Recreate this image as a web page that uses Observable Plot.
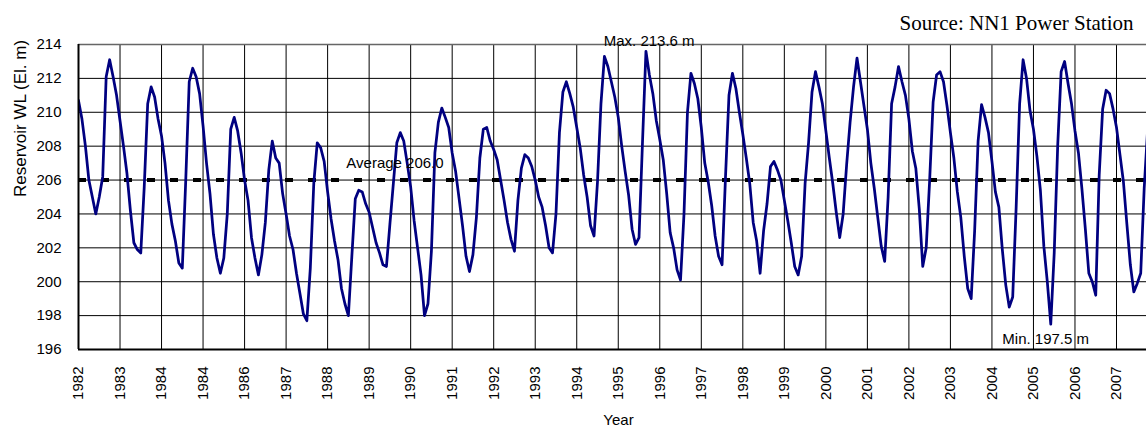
<!DOCTYPE html>
<html><head><meta charset="utf-8">
<script src="https://cdn.jsdelivr.net/npm/d3@7"></script>
<script src="https://cdn.jsdelivr.net/npm/@observablehq/plot@0.6"></script>
<style>
html,body{margin:0;padding:0;background:#fff;}
#chart{width:1146px;height:426px;position:relative;overflow:hidden;}
</style></head><body><div id="chart"></div>
<script>
// Tick labels shown every 12 months (as printed in the original chart)
const yearLabels = ["1982","1983","1984","1984","1986","1987","1988","1989","1990","1991","1992","1993","1994",
  "1995","1996","1997","1998","1999","2000","2001","2002","2003","2004","2005","2006","2007"];

// Monthly reservoir water level (El. m), one row per year from 1982
const levels = [
  210.7,209.6,208.0,206.0,205.0,204.0,205.0,206.2,212.1,213.1,212.1,211.0,
  209.5,208.0,206.4,204.2,202.3,201.9,201.7,205.6,210.5,211.5,210.9,209.6,
  208.6,207.0,204.8,203.4,202.4,201.1,200.8,206.0,211.8,212.6,212.1,211.1,
  209.2,207.0,205.2,202.8,201.4,200.5,201.4,204.0,209.0,209.7,208.9,207.6,
  206.0,204.8,202.6,201.4,200.4,201.6,203.5,206.6,208.3,207.3,207.0,205.2,
  204.0,202.7,201.9,200.5,199.3,198.1,197.7,200.8,205.8,208.2,207.9,207.1,
  205.3,203.7,202.4,201.3,199.6,198.7,198.0,201.5,204.9,205.4,205.3,204.6,
  204.1,203.2,202.3,201.7,201.0,200.9,203.4,205.8,208.2,208.8,208.3,207.0,
  205.6,203.6,202.0,200.4,198.0,198.7,201.8,207.6,209.4,210.25,209.7,209.1,
  207.6,206.5,204.9,203.3,201.5,200.6,201.6,203.8,207.3,209.0,209.1,208.3,
  207.8,207.2,206.0,204.8,203.5,202.5,201.8,204.8,206.7,207.5,207.3,206.8,
  206.0,205.0,204.4,203.3,202.0,201.7,204.0,208.8,211.2,211.8,211.1,210.3,
  209.1,207.9,206.3,205.0,203.3,202.7,205.9,210.5,213.3,212.7,211.8,210.9,
  209.7,208.0,206.5,205.1,203.1,202.2,202.6,208.2,213.6,212.2,211.1,209.5,
  208.4,207.2,205.2,202.9,202.0,200.7,200.1,204.0,210.0,212.3,211.7,210.8,
  209.1,207.0,205.9,204.5,202.7,201.5,201.0,206.2,211.0,212.3,211.4,210.0,
  208.7,207.3,205.8,203.5,202.4,200.5,203.0,204.6,206.8,207.1,206.6,206.0,
  204.8,203.6,202.3,200.9,200.4,201.5,205.8,208.2,211.2,212.4,211.5,210.5,
  208.9,207.3,205.8,204.1,202.6,204.0,206.9,209.4,211.5,213.2,211.8,210.4,
  209.0,207.0,205.5,203.8,202.1,201.2,205.0,210.5,211.5,212.7,211.8,211.0,
  209.6,207.7,206.7,204.3,200.9,202.0,206.0,210.6,212.2,212.4,211.8,210.4,
  208.8,207.3,205.3,203.8,201.5,199.6,199.0,203.0,208.3,210.45,209.7,208.8,
  207.1,205.3,204.4,201.9,199.8,198.5,199.1,204.4,210.5,213.1,212.0,210.1,
  209.0,207.4,205.4,202.1,200.0,197.5,201.7,208.0,212.4,213.0,211.7,210.5,
  208.9,207.6,205.5,203.1,200.5,200.0,199.2,206.3,210.2,211.3,211.1,210.2,
  209.1,207.5,205.9,203.4,201.0,199.4,199.9,200.5,205.5,209.0
];

const averageLevel = 206.0;
const yTicks = [196,198,200,202,204,206,208,210,212,214];

// Annotation labels anchored in data space (month index, level)
const noteLabels = ["Average 206.0", "Max. 213.6 m", "Min. 197.5 m"];
const noteMonth = [77.4, 151.8, 267.0];
const noteLevel = [206.7, 213.9, 196.35];

const sourceText = "Source: NN1 Power Station";
const xTitle = "Year";
const yTitle = "Reservoir WL (El. m)";

const series = levels.map((v, i) => ({i, v}));
const tickMonths = yearLabels.map((_, k) => k * 12);
const notes = noteLabels.map((t, k) => ({t, i: noteMonth[k], v: noteLevel[k]}));

const chart = Plot.plot({
  width: 1146, height: 426,
  marginLeft: 78, marginRight: 0, marginTop: 44, marginBottom: 77,
  style: {fontFamily: "'Liberation Sans', Arial, sans-serif", fontSize: "15px", color: "#000", background: "#fff", overflow: "visible"},
  x: {domain: [0, 308.67], ticks: tickMonths, tickFormat: (d) => yearLabels[Math.round(d / 12)],
      tickRotate: -90, tickSize: 0, tickPadding: 17, label: null},
  y: {domain: [196, 214], ticks: yTicks, tickSize: 0, tickPadding: 17, label: null},
  marks: [
    Plot.ruleX(tickMonths, {stroke: "#000", strokeWidth: 1}),
    Plot.ruleY(yTicks.slice(1, -1), {stroke: "#000", strokeWidth: 1}),
    Plot.ruleY([214], {stroke: "#666", strokeWidth: 1.5}),
    Plot.ruleY([averageLevel], {stroke: "#000", strokeWidth: 4, strokeDasharray: "8,15"}),
    Plot.line(series, {x: "i", y: "v", stroke: "#000080", strokeWidth: 2.75, strokeLinejoin: "round", clip: true}),
    Plot.ruleX([0], {stroke: "#000", strokeWidth: 2}),
    Plot.ruleY([196], {stroke: "#000", strokeWidth: 2}),
    Plot.text(notes, {x: "i", y: "v", text: "t", textAnchor: "start", lineAnchor: "bottom", fontSize: 15, fill: "#000"}),
    Plot.text([yTitle], {text: (d) => d, frameAnchor: "left", dx: -53, rotate: -90, lineAnchor: "bottom", fontSize: 17, fill: "#000", style: "letter-spacing:0.5px"}),
    Plot.text([xTitle], {text: (d) => d, frameAnchor: "bottom", dx: 6, dy: 75, lineAnchor: "bottom", fontSize: 15, fill: "#000"}),
    Plot.text([sourceText], {text: (d) => d, frameAnchor: "top-right", dx: -13, dy: -15, textAnchor: "end", lineAnchor: "bottom",
      fontFamily: "'Liberation Serif', 'Times New Roman', serif", fontSize: 21, fill: "#000"})
  ]
});
document.getElementById("chart").appendChild(chart);
</script>
</body></html>
